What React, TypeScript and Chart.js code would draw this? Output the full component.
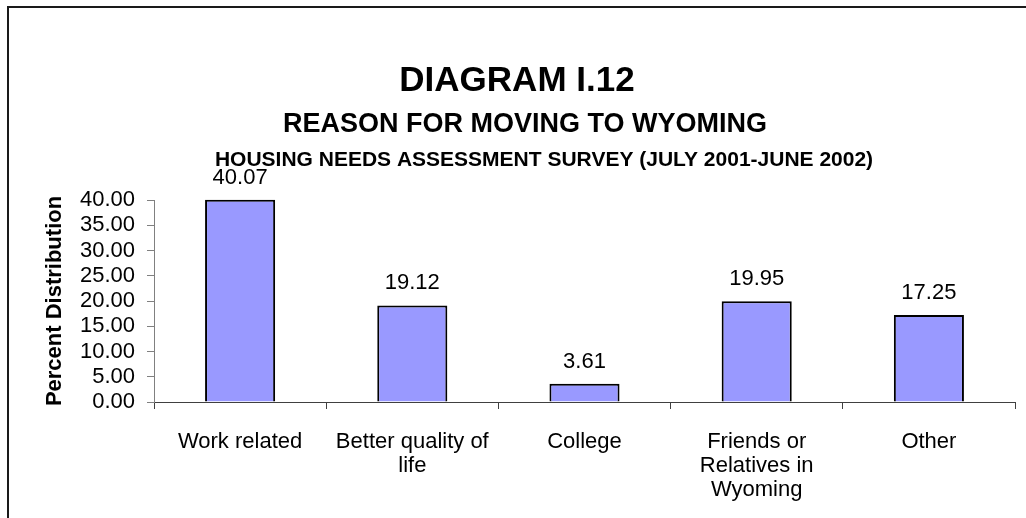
import React, { useEffect, useRef } from "react";
import { Chart, registerables } from "chart.js";

Chart.register(...registerables);

const categories: string[][] = [
  ["Work related"],
  ["Better quality of", "life"],
  ["College"],
  ["Friends or", "Relatives in", "Wyoming"],
  ["Other"],
];
const values: number[] = [40.07, 19.12, 3.61, 19.95, 17.25];
const yTicks: number[] = [0, 5, 10, 15, 20, 25, 30, 35, 40];
const titleLines: string[] = [
  "DIAGRAM I.12",
  "REASON FOR MOVING TO WYOMING",
  "HOUSING NEEDS ASSESSMENT SURVEY (JULY 2001-JUNE 2002)",
];
const yAxisTitle = "Percent Distribution";

const FONT = "Arial, 'Liberation Sans', sans-serif";

const decorPlugin = {
  id: "decor",
  beforeDraw(chart: any) {
    const ctx = chart.ctx;
    ctx.save();
    ctx.fillStyle = "#ffffff";
    ctx.fillRect(0, 0, chart.width, chart.height);
    ctx.fillStyle = "#1a1a1a";
    ctx.fillRect(7, 6, 2, chart.height - 6);
    ctx.fillRect(7, 6, chart.width - 7, 2);
    ctx.fillStyle = "#000";
    ctx.textAlign = "center";
    ctx.textBaseline = "alphabetic";
    ctx.font = `bold 35px ${FONT}`;
    ctx.fillText(titleLines[0], 517, 91);
    ctx.font = `bold 27px ${FONT}`;
    ctx.fillText(titleLines[1], 525, 132);
    ctx.font = `bold 21px ${FONT}`;
    ctx.fillText(titleLines[2], 544, 166);
    ctx.restore();
  },
  afterDatasetsDraw(chart: any) {
    const ctx = chart.ctx;
    const meta = chart.getDatasetMeta(0);
    ctx.save();
    ctx.fillStyle = "#000";
    ctx.font = `22px ${FONT}`;
    ctx.textAlign = "center";
    ctx.textBaseline = "alphabetic";
    meta.data.forEach((bar: any, i: number) => {
      ctx.fillText(values[i].toFixed(2), bar.x, bar.y - 16);
    });
    ctx.restore();
  },
};

export default function App() {
  const ref = useRef<HTMLCanvasElement>(null);
  useEffect(() => {
    document.body.style.margin = "0";
    const chart = new Chart(ref.current as HTMLCanvasElement, {
      type: "bar",
      data: {
        labels: categories,
        datasets: [
          {
            data: values,
            backgroundColor: "#9999FF",
            borderColor: "#000000",
            borderWidth: 2,
            barPercentage: 0.407,
            categoryPercentage: 1,
            clip: false as any,
          },
        ],
      },
      options: {
        animation: false,
        responsive: false,
        maintainAspectRatio: false,
        layout: { padding: { top: 200, left: 0, right: 11, bottom: 0 } },
        plugins: {
          legend: { display: false },
          tooltip: { enabled: false },
        },
        scales: {
          x: {
            grid: {
              display: true,
              drawOnChartArea: false,
              drawTicks: true,
              tickLength: 7,
              tickColor: "#404040",
              offset: true,
            },
            border: { display: true, color: "#404040", width: 1 },
            ticks: {
              color: "#000",
              font: { family: FONT, size: 22, lineHeight: 1.09 },
              padding: 21,
              maxRotation: 0,
              autoSkip: false,
            },
            afterFit(scale: any) {
              scale.height = 116;
            },
          },
          y: {
            min: 0,
            max: 40,
            afterBuildTicks(scale: any) {
              scale.ticks = yTicks.map((v) => ({ value: v }));
            },
            grid: {
              display: true,
              drawOnChartArea: false,
              drawTicks: true,
              tickLength: 7,
              tickColor: "#808080",
            },
            border: { display: true, color: "#808080", width: 1 },
            ticks: {
              color: "#000",
              font: { family: FONT, size: 22 },
              padding: 12,
              autoSkip: false,
              callback: (v: any) => Number(v).toFixed(2),
            },
            title: {
              display: true,
              text: yAxisTitle,
              color: "#000",
              font: { family: FONT, size: 22, weight: "bold" },
              padding: { top: 42, bottom: 0 },
            },
            afterFit(scale: any) {
              scale.width = 154;
            },
          },
        },
      },
      plugins: [decorPlugin],
    });
    return () => chart.destroy();
  }, []);
  return (
    <div style={{ width: 1026, height: 518 }}>
      <canvas ref={ref} width={1026} height={518} />
    </div>
  );
}
